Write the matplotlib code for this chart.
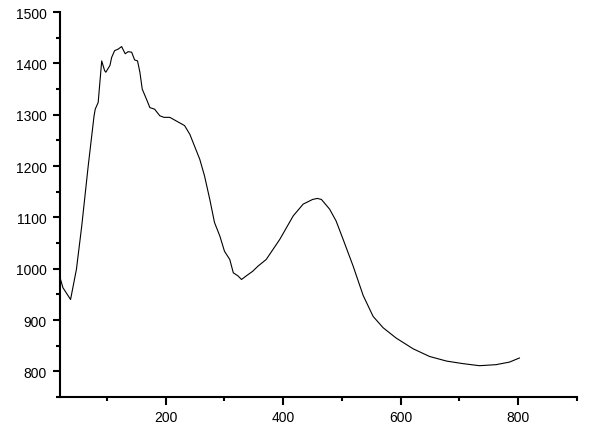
import matplotlib.pyplot as plt
from matplotlib.ticker import MultipleLocator

plt.rcParams['font.family'] = ['Liberation Sans', 'DejaVu Sans']

# 读取自参考图的曲线数据
x = [21, 25, 38, 48, 57, 68, 78, 80, 85, 91, 96, 98, 105, 108, 113, 119, 125,
     127, 131, 136, 142, 147, 152, 156, 160, 167, 173, 181, 190, 197, 207, 221,
     232, 241, 249, 258, 266, 275, 283, 292, 300, 309, 312, 315, 323, 329, 337,
     348, 357, 371, 394, 417, 434, 450, 458, 465, 479, 490, 502, 519, 536, 553,
     570, 592, 621, 649, 678, 706, 734, 762, 785, 802]
y = [979, 963, 940, 999, 1083, 1200, 1298, 1311, 1324, 1405, 1386, 1383, 1396,
     1412, 1425, 1428, 1433, 1428, 1419, 1423, 1422, 1407, 1405, 1383, 1350,
     1331, 1314, 1311, 1298, 1295, 1295, 1286, 1279, 1262, 1239, 1213, 1181,
     1135, 1090, 1064, 1034, 1018, 1005, 992, 986, 979, 986, 995, 1005, 1018,
     1057, 1103, 1126, 1135, 1137, 1135, 1116, 1093, 1057, 1005, 948, 907, 885,
     865, 844, 829, 820, 815, 811, 813, 818, 826]

fig = plt.figure(figsize=(5.91, 4.39), dpi=100)
ax = fig.add_axes([0.1015, 0.0934, 0.8748, 0.8766])
ax.plot(x, y, color='black', linewidth=0.8)

ax.set_xlim(20, 900)
ax.set_ylim(750, 1500)
ax.xaxis.set_major_locator(MultipleLocator(200))
ax.xaxis.set_minor_locator(MultipleLocator(100))
ax.yaxis.set_major_locator(MultipleLocator(100))
ax.yaxis.set_minor_locator(MultipleLocator(50))

for side in ['top', 'right']:
    ax.spines[side].set_visible(False)
for side in ['left', 'bottom']:
    ax.spines[side].set_linewidth(1.5)

ax.tick_params(which='major', direction='out', length=5.4, width=1.5, labelsize=10, pad=4)
ax.tick_params(which='minor', direction='out', length=3, width=1.5)

fig.savefig('out.png', dpi=100)
